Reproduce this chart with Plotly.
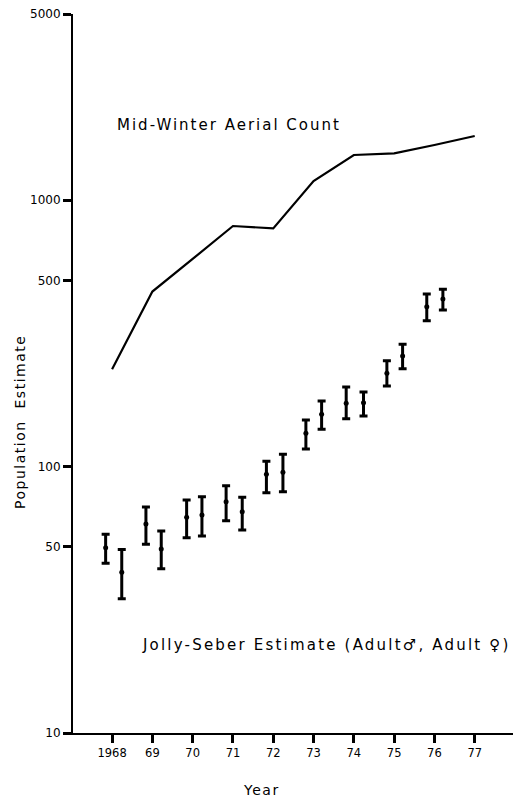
import plotly.graph_objects as go

# Mid-winter aerial count (line)
aerial_years = [1968, 1969, 1970, 1971, 1972, 1973, 1974, 1975, 1976, 1977]
aerial_counts = [232, 454, 602, 800, 784, 1180, 1478, 1500, 1611, 1742]

# Jolly-Seber estimates (points with confidence bars)
js_x = [1967.84, 1968.24, 1968.84, 1969.22, 1969.85, 1970.23, 1970.83, 1971.23,
        1971.83, 1972.24, 1972.81, 1973.20, 1973.81, 1974.24, 1974.82, 1975.21,
        1975.81, 1976.21]
js_est = [49.6, 40.1, 60.9, 49.1, 64.5, 65.8, 73.8, 67.7, 93.6, 95.2, 133.4,
          157.2, 172.8, 173.8, 224, 260.1, 398.2, 425.7]
js_upper = [55.7, 48.8, 70.5, 57.3, 74.9, 77.1, 84.8, 76.7, 104.7, 111.2, 149.6,
            176.3, 199, 190.5, 249.7, 287.8, 444.6, 463]
js_lower = [43.4, 31.9, 51.1, 41.4, 54.1, 54.9, 62.6, 57.8, 79.8, 80.5, 116.4,
            138, 151.3, 154.9, 200.7, 233.2, 353, 387]

x_tickvals = [1968, 1969, 1970, 1971, 1972, 1973, 1974, 1975, 1976, 1977]
x_ticktext = ["1968", "69", "70", "71", "72", "73", "74", "75", "76", "77"]
y_tickvals = [10, 50, 100, 500, 1000, 5000]
y_ticktext = ["10", "50", "100", "500", "1000", "5000"]

FONT = "DejaVu Sans"

fig = go.Figure()
fig.add_trace(go.Scatter(
    x=aerial_years, y=aerial_counts, mode="lines",
    line=dict(color="black", width=2.2), showlegend=False, hoverinfo="skip"))

err_plus = [u - e for u, e in zip(js_upper, js_est)]
err_minus = [e - l for e, l in zip(js_est, js_lower)]
fig.add_trace(go.Scatter(
    x=js_x, y=js_est, mode="markers",
    marker=dict(color="black", size=5),
    error_y=dict(type="data", array=err_plus, arrayminus=err_minus,
                 color="black", thickness=3, width=4, visible=True),
    showlegend=False))

fig.update_layout(
    width=513, height=798,
    margin=dict(l=73, r=0, t=14, b=65),
    paper_bgcolor="white", plot_bgcolor="white",
    font=dict(family=FONT, color="black"),
    xaxis=dict(range=[1967.03, 1977.95], tickvals=x_tickvals, ticktext=x_ticktext,
               showline=True, linecolor="black", linewidth=2, ticks="outside",
               ticklen=8, tickwidth=2.5, tickcolor="black", showgrid=False,
               zeroline=False, tickfont=dict(size=11.5, family=FONT)),
    yaxis=dict(type="log", range=[1, 3.69897], tickvals=y_tickvals,
               ticktext=y_ticktext, showline=True, linecolor="black", linewidth=2,
               ticks="outside", ticklen=8, tickwidth=2.5, tickcolor="black",
               showgrid=False, zeroline=False, tickfont=dict(size=12, family=FONT)),
    annotations=[
        dict(text='<span style="letter-spacing:2px">Mid-Winter Aerial Count</span>',
             xref="paper", yref="paper", x=0.0955, y=0.8456, xanchor="left",
             yanchor="middle", showarrow=False, font=dict(size=15, family=FONT)),
        dict(text='<span style="letter-spacing:2.2px">Jolly-Seber Estimate (Adult\u2642, Adult \u2640)</span>',
             xref="paper", yref="paper", x=0.152, y=0.1224, xanchor="left",
             yanchor="middle", showarrow=False, font=dict(size=15, family=FONT)),
        dict(text='<span style="letter-spacing:1.5px">Year</span>',
             xref="paper", yref="paper", x=0.4295, y=-0.0793, xanchor="center",
             yanchor="middle", showarrow=False, font=dict(size=14, family=FONT)),
        dict(text='<span style="letter-spacing:1.5px">Population  Estimate</span>',
             xref="paper", yref="paper", x=-0.1205, y=0.4326, xanchor="center",
             yanchor="middle", showarrow=False, textangle=-90,
             font=dict(size=14, family=FONT)),
    ],
)

fig.write_html("out.html")
